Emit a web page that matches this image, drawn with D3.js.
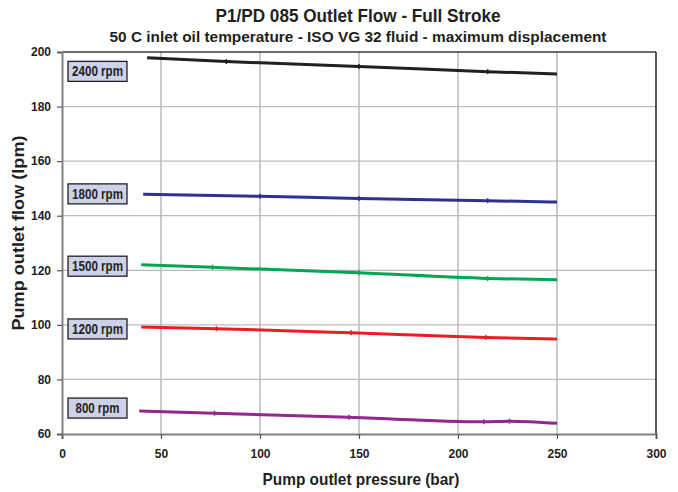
<!DOCTYPE html>
<html><head><meta charset="utf-8">
<script src="https://cdn.jsdelivr.net/npm/d3@7"></script>
<style>
html,body{margin:0;padding:0;background:#fff;}
text{font-family:"Liberation Sans",Arial,sans-serif;font-weight:bold;}
</style></head>
<body>
<svg id="c" width="678" height="492"></svg>
<script>
const title = "P1/PD 085 Outlet Flow - Full Stroke";
const subtitle = "50 C inlet oil temperature - ISO VG 32 fluid - maximum displacement";
const xTitle = "Pump outlet pressure (bar)";
const yTitle = "Pump outlet flow (lpm)";
const xTicks = [0, 50, 100, 150, 200, 250, 300];
const yTicks = [60, 80, 100, 120, 140, 160, 180, 200];
const seriesNames = ["2400 rpm", "1800 rpm", "1500 rpm", "1200 rpm", "800 rpm"];
const seriesColors = ["#231f20", "#2e3192", "#00a651", "#ed1c24", "#92278f"];
const rpm2400 = [[43,197.9],[83,196.5],[150,194.7],[215,192.8],[250,191.9]];
const rpm1800 = [[41,147.9],[100,147.1],[150,146.3],[215,145.5],[250,145.0]];
const rpm1500 = [[40,122.0],[76,121.1],[150,119.1],[215,117.0],[250,116.5]];
const rpm1200 = [[40,99.2],[78,98.6],[146,97.1],[214,95.4],[250,94.8]];
const rpm800  = [[39,68.4],[77,67.6],[145,66.1],[213,64.5],[226,64.7],[250,63.9]];
const seriesData = [rpm2400, rpm1800, rpm1500, rpm1200, rpm800];
// label box anchor values (y-value of box center)
const labelValues = [192.9, 148.0, 121.5, 98.5, 69.5];

const svg = d3.select("#c");
const L=62, R=656, T=52, B=434;
const x = d3.scaleLinear().domain([0,300]).range([L,R]);
const y = d3.scaleLinear().domain([60,200]).range([B,T]);

// gridlines
svg.append("g").selectAll("line.v").data(xTicks.filter(d=>d>0&&d<300)).join("line")
  .attr("x1",d=>x(d)).attr("x2",d=>x(d)).attr("y1",T).attr("y2",B)
  .attr("stroke","#a3a7ab").attr("stroke-width",1.2);
svg.append("g").selectAll("line.h").data(yTicks.filter(d=>d>60&&d<200)).join("line")
  .attr("x1",L).attr("x2",R).attr("y1",d=>y(d)).attr("y2",d=>y(d))
  .attr("stroke","#b8bcc0").attr("stroke-width",1.2);

// top and right border
svg.append("line").attr("x1",L).attr("x2",R).attr("y1",T).attr("y2",T).attr("stroke","#3a3a3a").attr("stroke-width",1.5);
svg.append("line").attr("x1",R).attr("x2",R).attr("y1",T).attr("y2",B).attr("stroke","#222").attr("stroke-width",1.5);

// axes
const xAxis = svg.append("g").attr("transform",`translate(0,${B})`)
  .call(d3.axisBottom(x).tickValues(xTicks).tickSize(5).tickPadding(10));
const yAxis = svg.append("g").attr("transform",`translate(${L},0)`)
  .call(d3.axisLeft(y).tickValues(yTicks).tickSize(5).tickPadding(6));
[xAxis,yAxis].forEach(a=>{
  a.select(".domain").attr("stroke","#808080").attr("stroke-width",2);
  a.selectAll(".tick line").attr("stroke","#555").attr("stroke-width",1.2);
  a.selectAll(".tick text").attr("fill","#231f20").style("font-size","12px")
   .style("font-family","'Liberation Sans',Arial,sans-serif").style("font-weight","bold");
});

// lines
const line = d3.line().x(d=>x(d[0])).y(d=>y(d[1])).curve(d3.curveMonotoneX);
seriesData.forEach((s,i)=>{
  svg.append("path").datum(s).attr("d",line).attr("fill","none")
    .attr("stroke",seriesColors[i]).attr("stroke-width",3).attr("stroke-linecap","butt");
  svg.append("g").selectAll("line").data(s.slice(1,-1)).join("line")
    .attr("x1",d=>x(d[0])).attr("x2",d=>x(d[0]))
    .attr("y1",d=>y(d[1])-2.5).attr("y2",d=>y(d[1])+2.5)
    .attr("stroke",seriesColors[i]).attr("stroke-width",1.5);
});

// label boxes
seriesNames.forEach((n,i)=>{
  const cy = y(labelValues[i]);
  svg.append("rect").attr("x",68).attr("y",cy-10).attr("width",59).attr("height",20)
    .attr("fill","#cdd1ea").attr("stroke","#231f20").attr("stroke-width",1.3);
  const t = svg.append("text").attr("x",97.5).attr("y",cy+5).attr("text-anchor","middle")
    .style("font-size","14px").attr("fill","#231f20").text(n);
  t.attr("textLength", n.length===8 ? 51 : 44).attr("lengthAdjust","spacingAndGlyphs");
});

// titles
svg.append("text").attr("x",358).attr("y",22).attr("text-anchor","middle")
  .style("font-size","18px").attr("fill","#231f20").text(title)
  .attr("textLength",285).attr("lengthAdjust","spacingAndGlyphs");
svg.append("text").attr("x",358).attr("y",42).attr("text-anchor","middle")
  .style("font-size","15.5px").attr("fill","#231f20").text(subtitle)
  .attr("textLength",497).attr("lengthAdjust","spacingAndGlyphs");
svg.append("text").attr("x",361).attr("y",485).attr("text-anchor","middle")
  .style("font-size","16.5px").attr("fill","#231f20").text(xTitle)
  .attr("textLength",197).attr("lengthAdjust","spacingAndGlyphs");
svg.append("text").attr("transform","translate(24,233) rotate(-90)").attr("text-anchor","middle")
  .style("font-size","16.5px").attr("fill","#231f20").text(yTitle)
  .attr("textLength",195).attr("lengthAdjust","spacingAndGlyphs");
</script>
</body></html>
